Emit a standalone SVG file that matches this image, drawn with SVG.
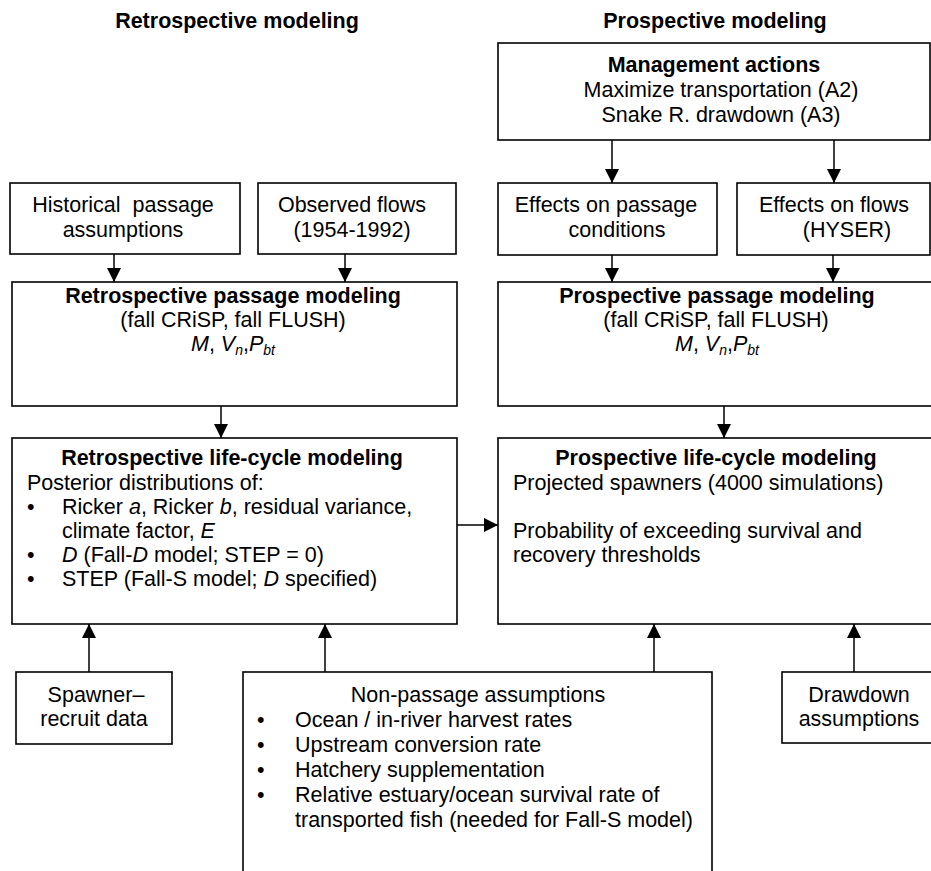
<svg xmlns="http://www.w3.org/2000/svg" width="931" height="871" viewBox="0 0 931 871">
<defs>
<marker id="ah" markerUnits="userSpaceOnUse" markerWidth="14" markerHeight="14" refX="14" refY="7" orient="auto">
<path d="M0,0 L14,7 L0,14 z" fill="#000"/>
</marker>
</defs>
<style>
text{font-family:"Liberation Sans",Arial,Helvetica,sans-serif;font-size:21.5px;fill:#000}
.b{font-weight:bold}
.c{text-anchor:middle}
.i{font-style:italic}
.s{font-size:14px;font-style:italic}
rect{fill:#fff;stroke:#000;stroke-width:1.6}
.con line{stroke:#000;stroke-width:1.5;marker-end:url(#ah)}
</style>
<rect x="0" y="0" width="931" height="871" style="stroke:none;fill:#fff"/>

<g id="titles">
<text class="b c" x="237" y="28">Retrospective modeling</text>
<text class="b c" x="715" y="28">Prospective modeling</text>
</g>

<g id="management">
<rect x="498" y="43" width="432" height="97"/>
<text class="b c" x="714" y="72">Management actions</text>
<text class="c" x="721" y="97">Maximize transportation (A2)</text>
<text class="c" x="721" y="122">Snake R. drawdown (A3)</text>
</g>

<g id="historical">
<rect x="10" y="183" width="230" height="71"/>
<text class="c" x="123" y="212" xml:space="preserve">Historical  passage</text>
<text class="c" x="123" y="237">assumptions</text>
</g>

<g id="observed">
<rect x="258" y="183" width="198" height="71"/>
<text class="c" x="352" y="212">Observed flows</text>
<text class="c" x="352" y="237">(1954-1992)</text>
</g>

<g id="effects-passage">
<rect x="498" y="183" width="219" height="72"/>
<text class="c" x="606" y="212">Effects on passage</text>
<text class="c" x="617" y="237">conditions</text>
</g>

<g id="effects-flows">
<rect x="737" y="183" width="193" height="72"/>
<text class="c" x="834" y="212">Effects on flows</text>
<text class="c" x="847" y="237">(HYSER)</text>
</g>

<g id="retro-passage">
<rect x="12" y="282" width="445" height="124"/>
<text class="b c" x="233" y="303">Retrospective passage modeling</text>
<text class="c" x="233" y="327">(fall CRiSP, fall FLUSH)</text>
<text class="c" x="233" y="351"><tspan class="i">M</tspan>, <tspan class="i">V</tspan><tspan class="s" dy="4">n</tspan><tspan dy="-4">,</tspan><tspan class="i">P</tspan><tspan class="s" dy="4">bt</tspan></text>
</g>

<g id="pro-passage">
<rect x="498" y="282" width="440" height="124"/>
<text class="b c" x="717" y="303">Prospective passage modeling</text>
<text class="c" x="716" y="327">(fall CRiSP, fall FLUSH)</text>
<text class="c" x="717" y="351"><tspan class="i">M</tspan>, <tspan class="i">V</tspan><tspan class="s" dy="4">n</tspan><tspan dy="-4">,</tspan><tspan class="i">P</tspan><tspan class="s" dy="4">bt</tspan></text>
</g>

<g id="retro-lifecycle">
<rect x="12" y="438" width="445" height="186"/>
<text class="b c" x="232" y="465">Retrospective life-cycle modeling</text>
<text x="27" y="490">Posterior distributions of:</text>
<text x="27" y="514">•</text>
<text x="62" y="514">Ricker <tspan class="i">a</tspan>, Ricker <tspan class="i">b</tspan>, residual variance,</text>
<text x="62" y="538">climate factor, <tspan class="i">E</tspan></text>
<text x="27" y="562">•</text>
<text x="62" y="562"><tspan class="i">D</tspan> (Fall-<tspan class="i">D</tspan> model; STEP = 0)</text>
<text x="27" y="586">•</text>
<text x="62" y="586">STEP (Fall-S model; <tspan class="i">D</tspan> specified)</text>
</g>

<g id="pro-lifecycle">
<rect x="498" y="438" width="440" height="186"/>
<text class="b c" x="716" y="465">Prospective life-cycle modeling</text>
<text x="513" y="490">Projected spawners (4000 simulations)</text>
<text x="513" y="538">Probability of exceeding survival and</text>
<text x="513" y="562">recovery thresholds</text>
</g>

<g id="spawner">
<rect x="16" y="672" width="156" height="72"/>
<text class="c" x="96" y="702">Spawner–</text>
<text class="c" x="94" y="726">recruit data</text>
</g>

<g id="nonpassage">
<rect x="243" y="672" width="469" height="210"/>
<text class="c" x="478" y="702">Non-passage assumptions</text>
<text x="257" y="727">•</text>
<text x="295" y="727">Ocean / in-river harvest rates</text>
<text x="257" y="752">•</text>
<text x="295" y="752">Upstream conversion rate</text>
<text x="257" y="777">•</text>
<text x="295" y="777">Hatchery supplementation</text>
<text x="257" y="802">•</text>
<text x="295" y="802">Relative estuary/ocean survival rate of</text>
<text x="295" y="827">transported fish (needed for Fall-S model)</text>
</g>

<g id="drawdown">
<rect x="782" y="672" width="156" height="71"/>
<text class="c" x="859" y="702">Drawdown</text>
<text class="c" x="859" y="726">assumptions</text>
</g>

<g id="connectors" class="con">
<line x1="612" y1="140" x2="612" y2="183"/>
<line x1="834" y1="140" x2="834" y2="183"/>
<line x1="114" y1="254" x2="114" y2="282"/>
<line x1="345" y1="254" x2="345" y2="282"/>
<line x1="612" y1="255" x2="612" y2="282"/>
<line x1="833" y1="255" x2="833" y2="282"/>
<line x1="221" y1="406" x2="221" y2="438"/>
<line x1="724" y1="406" x2="724" y2="438"/>
<line x1="457" y1="525" x2="498" y2="525"/>
<line x1="89" y1="672" x2="89" y2="624"/>
<line x1="325" y1="672" x2="325" y2="624"/>
<line x1="654" y1="672" x2="654" y2="624"/>
<line x1="854" y1="672" x2="854" y2="624"/>
</g>
</svg>
